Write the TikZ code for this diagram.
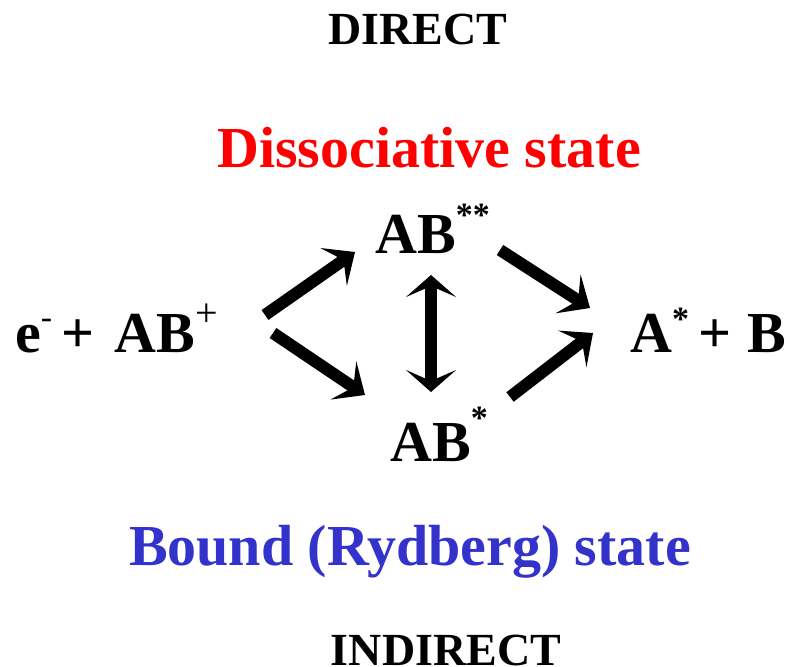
\documentclass[tikz,border=0pt]{standalone}
\usepackage{fontspec}
\setmainfont{Liberation Serif}
\usepackage{xcolor}
\usetikzlibrary{arrows.meta}
\definecolor{dissred}{RGB}{255,0,0}
\definecolor{boundblue}{RGB}{51,51,204}
\newcommand{\sups}[2][26bp]{\raisebox{#1}{\fontsize{34bp}{36bp}\selectfont #2}}

\begin{document}
\begin{tikzpicture}[x=1bp,y=-1bp,
  species/.style={anchor=base west,inner sep=0pt,font=\bfseries\fontsize{58bp}{60bp}\selectfont},
  statelbl/.style={anchor=base,inner sep=0pt,font=\bfseries\fontsize{58bp}{60bp}\selectfont},
  routelbl/.style={anchor=base,inner sep=0pt,font=\bfseries\fontsize{46bp}{48bp}\selectfont},
  fat/.style={line width=12bp,-{Stealth[length=26bp,width=46bp,inset=12bp]}}]
  \useasboundingbox (0,0) rectangle (792,667);

  % route and state labels
  \node[routelbl] (direct) at (418,45) {DIRECT};
  \node[statelbl,text=dissred] (diss) at (429,167) {Dissociative state};
  \node[statelbl,text=boundblue] (bound) at (410,565) {Bound (Rydberg) state};
  \node[routelbl] (indirect) at (446,665) {INDIRECT};

  % species
  \node[species] (eab) at (15,352)
    {e\sups[24bp]{\mdseries-}\,+\hspace{5bp} AB\sups[26bp]{\mdseries\fontsize{40bp}{40bp}\selectfont+}};
  \node[species] (abss) at (375,253) {AB\sups[27bp]{**}};
  \node[species] (abs) at (390,461) {AB\sups[32bp]{*}};
  \node[species] (prod) at (630,352) {A\sups[22bp]{*}\,+\hspace{1bp} B};

  % arrow ends
  \coordinate (up0) at (265,315);   \coordinate (up1) at (355,252);
  \coordinate (dn0) at (273,333);   \coordinate (dn1) at (365,395);
  \coordinate (out0) at (500,250);  \coordinate (out1) at (590,308);
  \coordinate (in0) at (510,397);   \coordinate (in1) at (593,333);
  \coordinate (mix0) at (431,275);  \coordinate (mix1) at (431,392);

  \foreach \a/\b in {up0/up1,dn0/dn1,out0/out1,in0/in1}
    \draw[fat] (\a) -- (\b);
  \draw[fat,{Stealth[length=22bp,width=50bp,inset=11bp]}-{Stealth[length=22bp,width=50bp,inset=11bp]}]
    (mix0) -- (mix1);
\end{tikzpicture}
\end{document}
